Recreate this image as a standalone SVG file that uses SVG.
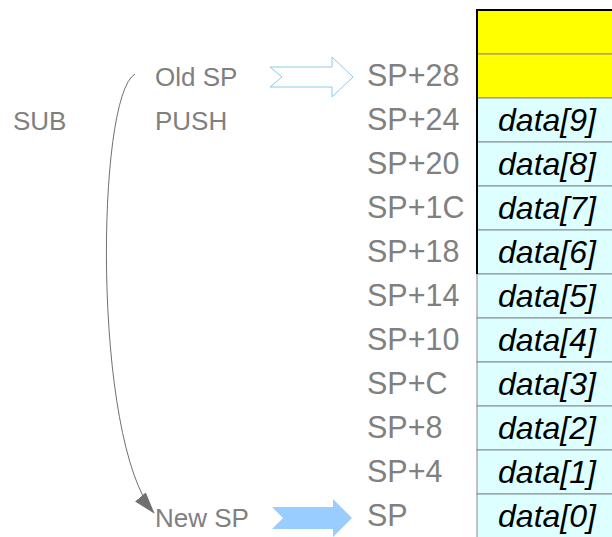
<svg xmlns="http://www.w3.org/2000/svg" width="612" height="537" viewBox="0 0 612 537">
<defs>
<style>
.cell{fill:#ddffff;stroke:#888888;stroke-width:1}
.ycell{fill:#ffff00;stroke:#888888;stroke-width:1}
.data{font-family:"Liberation Sans",Arial,sans-serif;font-style:italic;font-size:32px;fill:#000000;text-anchor:middle}
.sp{font-family:"Liberation Sans",Arial,sans-serif;font-size:30.5px;fill:#808080}
.lbl{font-family:"Liberation Sans",Arial,sans-serif;font-size:26px;fill:#808080}
.conn{fill:none;stroke:#707070;stroke-width:1}
</style>
<marker id="ah2" markerWidth="22" markerHeight="14" refX="21" refY="7" orient="auto" markerUnits="userSpaceOnUse" viewBox="0 0 22 14">
<path d="M0,0 L22,7 L0,14 Z" fill="#707070"/>
</marker>
</defs>
<rect width="612" height="537" fill="#ffffff"/>

<g id="stack">
<rect class="ycell" x="477" y="10" width="150" height="44"/>
<rect class="ycell" x="477" y="54" width="150" height="44"/>
<g id="row9"><rect class="cell" x="477" y="98" width="150" height="44"/><text class="data" x="547" y="131">data[9]</text></g>
<g id="row8"><rect class="cell" x="477" y="142" width="150" height="44"/><text class="data" x="547" y="175">data[8]</text></g>
<g id="row7"><rect class="cell" x="477" y="186" width="150" height="44"/><text class="data" x="547" y="219">data[7]</text></g>
<g id="row6"><rect class="cell" x="477" y="230" width="150" height="44"/><text class="data" x="547" y="263">data[6]</text></g>
<g id="row5"><rect class="cell" x="477" y="274" width="150" height="44"/><text class="data" x="547" y="307">data[5]</text></g>
<g id="row4"><rect class="cell" x="477" y="318" width="150" height="44"/><text class="data" x="547" y="351">data[4]</text></g>
<g id="row3"><rect class="cell" x="477" y="362" width="150" height="44"/><text class="data" x="547" y="395">data[3]</text></g>
<g id="row2"><rect class="cell" x="477" y="406" width="150" height="44"/><text class="data" x="547" y="439">data[2]</text></g>
<g id="row1"><rect class="cell" x="477" y="450" width="150" height="44"/><text class="data" x="547" y="483">data[1]</text></g>
<g id="row0"><rect class="cell" x="477" y="494" width="150" height="44"/><text class="data" x="547" y="527">data[0]</text></g>
<path d="M477,274 L477,10 L612,10" fill="none" stroke="#000000" stroke-width="2"/>
</g>

<g id="offsets">
<text class="sp" x="367" y="86">SP+28</text>
<text class="sp" x="367" y="130">SP+24</text>
<text class="sp" x="367" y="174">SP+20</text>
<text class="sp" x="367" y="218">SP+1C</text>
<text class="sp" x="367" y="262">SP+18</text>
<text class="sp" x="367" y="306">SP+14</text>
<text class="sp" x="367" y="350">SP+10</text>
<text class="sp" x="367" y="394">SP+C</text>
<text class="sp" x="367" y="438">SP+8</text>
<text class="sp" x="367" y="482">SP+4</text>
<text class="sp" x="367" y="526">SP</text>
</g>

<g id="labels">
<text class="lbl" x="13" y="130">SUB</text>
<text class="lbl" x="155" y="130">PUSH</text>
<text class="lbl" x="155" y="86">Old SP</text>
<text class="lbl" x="155" y="527">New SP</text>
</g>

<g id="oldsp-arrow">
<path d="M270,67 L332,67 L332,57 L353,77 L332,97 L332,87 L270,87 L282,77 Z" fill="#ffffff" stroke="#88ccee" stroke-width="1"/>
</g>
<g id="newsp-arrow">
<path d="M272,507 L333,507 L333,499 L352,518 L333,537 L333,529 L272,529 L283,518 Z" fill="#99ccff" stroke="none"/>
</g>

<g id="connectors">
<path class="conn" d="M135,74 C96,96 92,440 154,513" marker-end="url(#ah2)"/>
</g>
</svg>
